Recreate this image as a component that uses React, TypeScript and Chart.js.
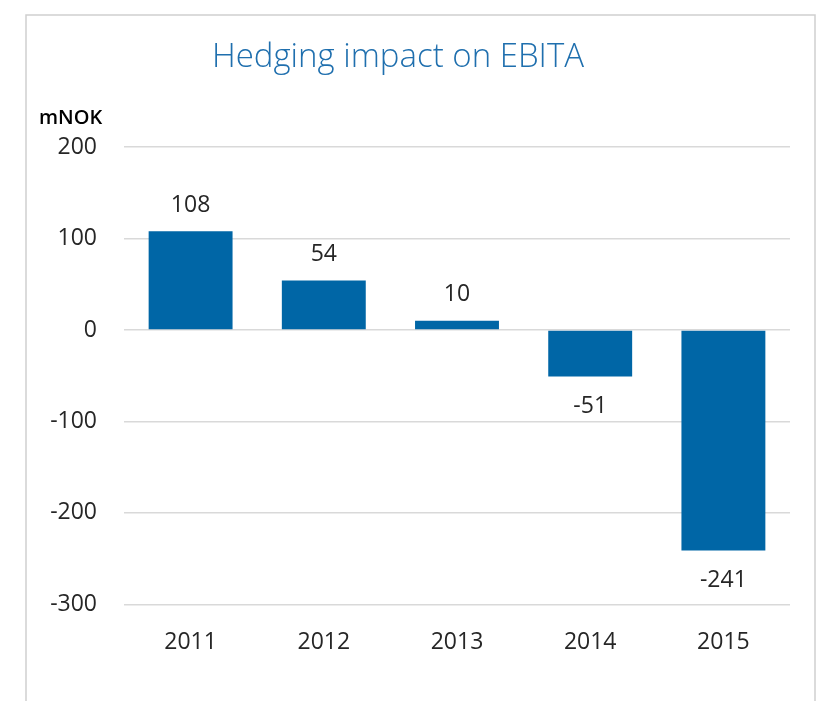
import React, { useEffect, useRef } from "react";
import { Chart, registerables } from "chart.js";

Chart.register(...registerables);

const categories = ["2011", "2012", "2013", "2014", "2015"];
const values = [108, 54, 10, -51, -241];
const yTicks = [200, 100, 0, -100, -200, -300];
const titleText = "Hedging impact on EBITA";
const unitText = "mNOK";

const FONT = "'Open Sans', 'DejaVu Sans', sans-serif";

const decorPlugin = {
  id: "decor",
  beforeDraw(chart: any) {
    const ctx = chart.ctx;
    ctx.save();
    ctx.fillStyle = "#ffffff";
    ctx.fillRect(0, 0, chart.width, chart.height);
    ctx.strokeStyle = "#d0d0d0";
    ctx.lineWidth = 1.5;
    ctx.beginPath();
    ctx.moveTo(26, chart.height + 2);
    ctx.lineTo(26, 15);
    ctx.lineTo(815, 15);
    ctx.lineTo(815, chart.height + 2);
    ctx.stroke();
    ctx.restore();
  },
  afterDraw(chart: any) {
    const ctx = chart.ctx;
    ctx.save();
    ctx.fillStyle = "#1f6fae";
    ctx.font = `300 33px ${FONT}`;
    ctx.textAlign = "center";
    ctx.textBaseline = "middle";
    ctx.fillText(titleText, 398, 58);
    ctx.fillStyle = "#000000";
    ctx.font = `600 20px ${FONT}`;
    ctx.textAlign = "left";
    ctx.fillText(unitText, 39, 118);
    ctx.restore();
  },
  afterDatasetsDraw(chart: any) {
    const ctx = chart.ctx;
    const meta = chart.getDatasetMeta(0);
    ctx.save();
    ctx.fillStyle = "#262626";
    ctx.font = `400 23px ${FONT}`;
    ctx.textAlign = "center";
    ctx.textBaseline = "middle";
    meta.data.forEach((el: any, i: number) => {
      const v = values[i];
      const y = v >= 0 ? el.y - 26 : el.y + 30;
      ctx.fillText(String(v), el.x, y);
    });
    ctx.restore();
  },
};

export default function App() {
  const ref = useRef<HTMLCanvasElement>(null);
  useEffect(() => {
    if (!ref.current) return;
    const chart = new Chart(ref.current, {
      type: "bar",
      data: {
        labels: categories,
        datasets: [
          {
            data: values,
            backgroundColor: "#0066a6",
            borderWidth: 0,
            barPercentage: 0.63,
            categoryPercentage: 1,
          },
        ],
      },
      options: {
        animation: false,
        responsive: false,
        devicePixelRatio: 1,
        layout: { padding: { left: 0, right: 31, top: 147, bottom: 21 } },
        plugins: {
          legend: { display: false },
          title: { display: false },
          tooltip: { enabled: false },
        },
        scales: {
          x: {
            grid: { display: false, drawTicks: false },
            border: { display: false },
            ticks: {
              padding: 24,
              color: "#262626",
              font: { family: FONT, size: 23 },
            },
          },
          y: {
            min: -300,
            max: 200,
            afterBuildTicks: (scale: any) => {
              scale.ticks = yTicks.map((v) => ({ value: v }));
            },
            afterFit: (scale: any) => {
              scale.width = 124;
            },
            grid: { color: "#d9d9d9", lineWidth: 1.5, drawTicks: false },
            border: { display: false },
            ticks: {
              padding: 27,
              color: "#262626",
              font: { family: FONT, size: 23 },
            },
          },
        },
      },
      plugins: [decorPlugin],
    });
    return () => chart.destroy();
  }, []);
  return (
    <div style={{ position: "absolute", left: 0, top: 0, width: 821, height: 701, background: "#fff" }}>
      <canvas ref={ref} width={821} height={701} style={{ display: "block" }} />
    </div>
  );
}
